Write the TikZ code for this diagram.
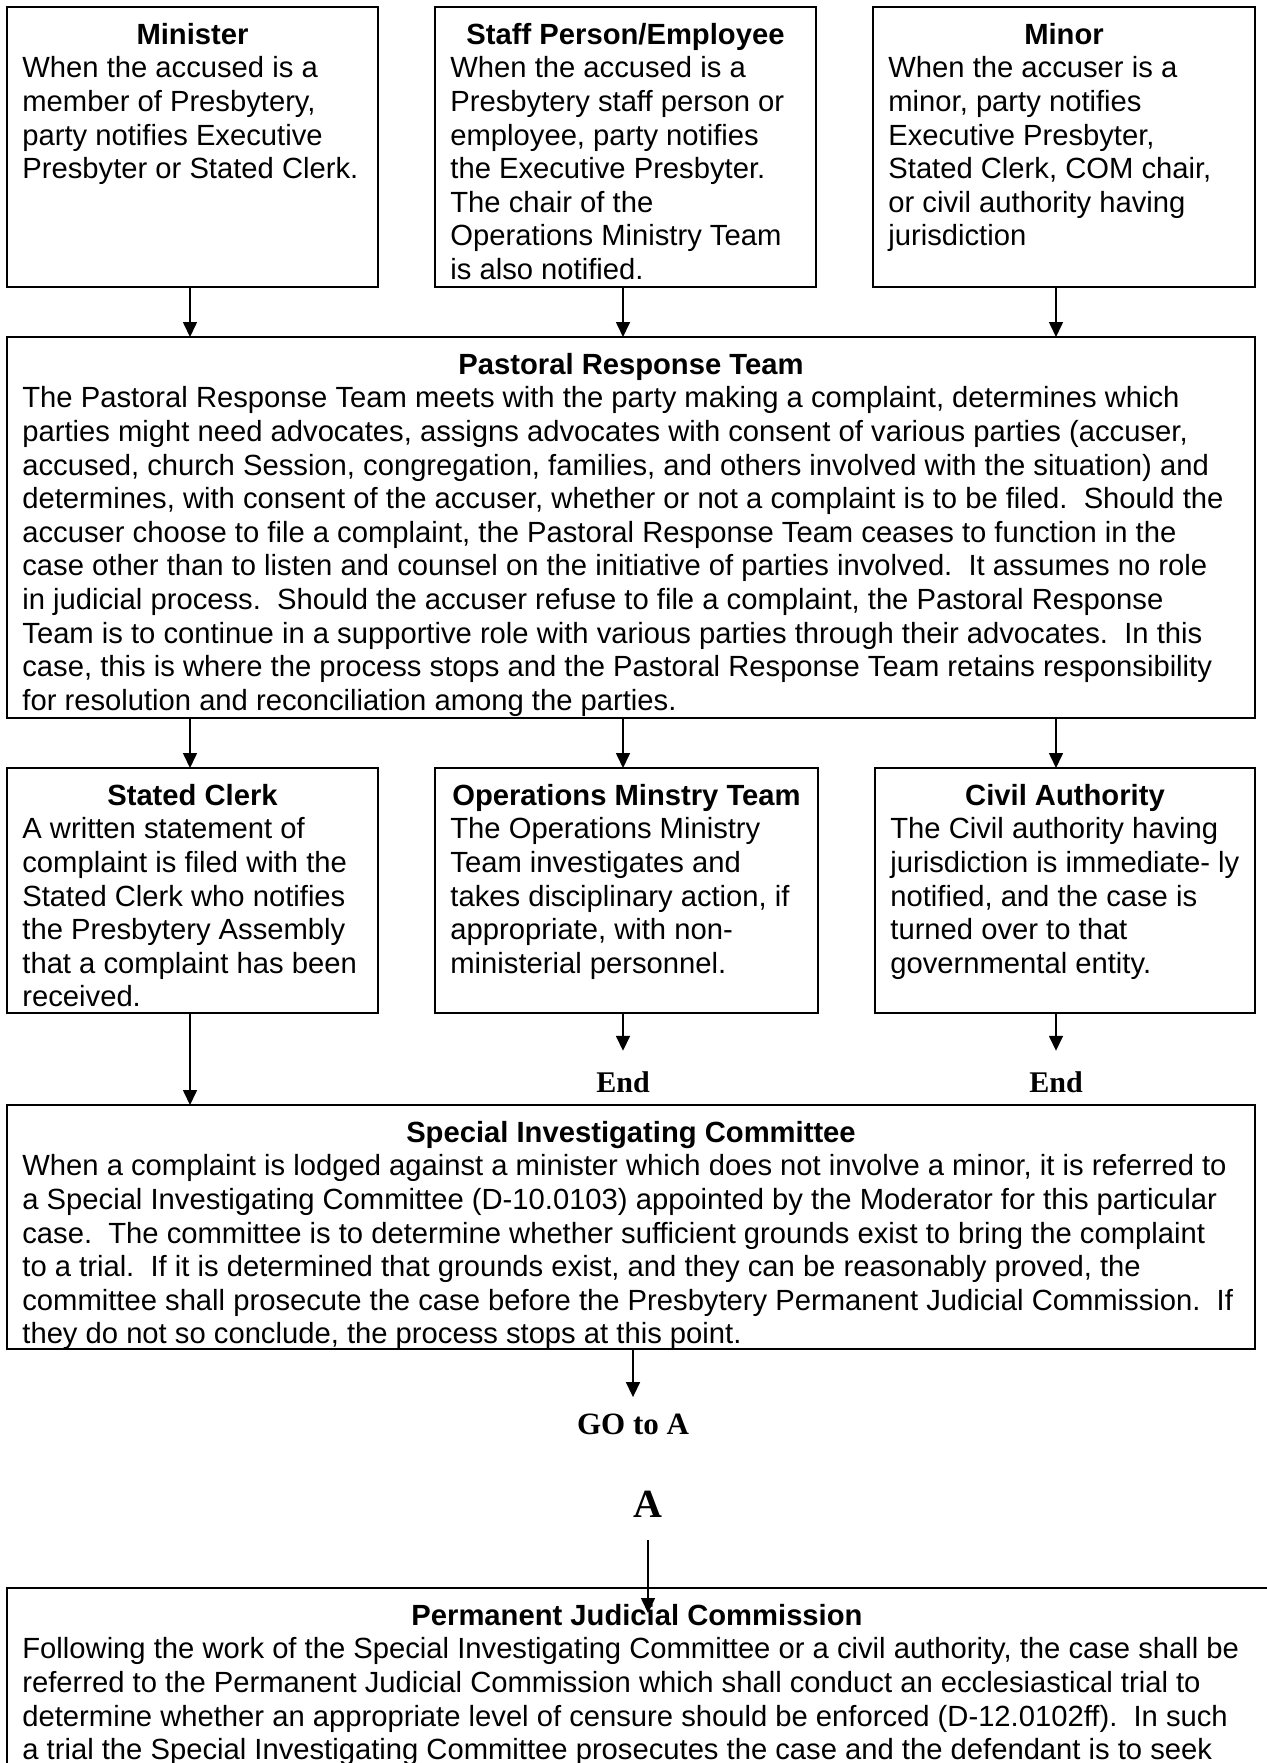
\documentclass[tikz,border=0pt]{standalone}
\usepackage{fontspec}
\setmainfont{Liberation Sans}
\newfontfamily\serifb{Liberation Serif}
\usetikzlibrary{arrows.meta}
\newcommand\st{\rule{0pt}{13pt}}
\begin{document}
\begin{tikzpicture}[x=0.5pt,y=-0.5pt,
  box/.style={draw, line width=1.1pt, inner sep=0pt, outer sep=0pt, anchor=north west},
  ttl/.style={font=\bfseries\fontsize{14.6}{16.8}\selectfont, inner sep=0pt, anchor=base},
  body/.style={font=\fontsize{14.6}{16.8}\selectfont, inner sep=0pt, anchor=north west, align=left},
  arr/.style={line width=0.8pt, -{Triangle[width=7pt,length=7.5pt]}},
  lbl/.style={font=\serifb\bfseries\fontsize{15}{18}\selectfont, inner sep=0pt, anchor=base}]
\useasboundingbox (0,0) rectangle (1267,1763);
\fill[white] (0,0) rectangle (1267,1763);
\clip (0,0) rectangle (1267,1763);
% arrow columns
\coordinate (c1) at (190,0);
\coordinate (c2) at (623,0);
\coordinate (c3) at (1056,0);
\coordinate (c4) at (633,0);
\coordinate (c5) at (648,0);
% row 1
\node[box, minimum width=185.5pt, minimum height=140pt] (min) at (7,7) {};
\node[ttl] (mint) at (192.5,44) {Minister};
\node[body] (minb) at (22,51.5) {\st When the accused is a\\member of Presbytery,\\party notifies Executive\\Presbyter or Stated Clerk.};
\node[box, minimum width=190.5pt, minimum height=140pt] (stf) at (435,7) {};
\node[ttl] (stft) at (625.5,44) {Staff Person/Employee};
\node[body] (stfb) at (450,51.5) {\st When the accused is a\\Presbytery staff person or\\employee, party notifies\\the Executive Presbyter.\\The chair of the\\Operations Ministry Team\\is also notified.};
\node[box, minimum width=191pt, minimum height=140pt] (mnr) at (873,7) {};
\node[ttl] (mnrt) at (1064,44) {Minor};
\node[body] (mnrb) at (888,51.5) {\st When the accuser is a\\minor, party notifies\\Executive Presbyter,\\Stated Clerk, COM chair,\\or civil authority having\\jurisdiction};
% PRT
\node[box, minimum width=624pt, minimum height=190.5pt] (prt) at (7,337) {};
\node[ttl] (prtt) at (631,374) {Pastoral Response Team};
\node[body] (prtb) at (22,381.5) {\st The Pastoral Response Team meets with the party making a complaint, determines which\\parties might need advocates, assigns advocates with consent of various parties (accuser,\\accused, church Session, congregation, families, and others involved with the situation) and\\determines, with consent of the accuser, whether or not a complaint is to be filed.\ \ Should the\\accuser choose to file a complaint, the Pastoral Response Team ceases to function in the\\case other than to listen and counsel on the initiative of parties involved.\ \ It assumes no role\\in judicial process.\ \ Should the accuser refuse to file a complaint, the Pastoral Response\\Team is to continue in a supportive role with various parties through their advocates.\ \ In this\\case, this is where the process stops and the Pastoral Response Team retains responsibility\\for resolution and reconciliation among the parties.};
% row 2
\node[box, minimum width=185.5pt, minimum height=122.5pt] (sc) at (7,768) {};
\node[ttl] (sct) at (192.5,805) {Stated Clerk};
\node[body] (scb) at (22,812.5) {\st A written statement of\\complaint is filed with the\\Stated Clerk who notifies\\the Presbytery Assembly\\that a complaint has been\\received.};
\node[box, minimum width=191.5pt, minimum height=122.5pt] (omt) at (435,768) {};
\node[ttl] (omtt) at (626.5,805) {Operations Minstry Team};
\node[body] (omtb) at (450,812.5) {\st The Operations Ministry\\Team investigates and\\takes disciplinary action, if\\appropriate, with non-\\ministerial personnel.};
\node[box, minimum width=190pt, minimum height=122.5pt] (ca) at (875,768) {};
\node[ttl] (cat) at (1065,805) {Civil Authority};
\node[body] (cab) at (890,812.5) {\st The Civil authority having\\jurisdiction is immediate- ly\\notified, and the case is\\turned over to that\\governmental entity.};
% End labels
\node[lbl] (end1) at (623,1092) {End};
\node[lbl] (end2) at (1056,1092) {End};
% SIC
\node[box, minimum width=624pt, minimum height=122pt] (sic) at (7,1105) {};
\node[ttl] (sict) at (631,1142) {Special Investigating Committee};
\node[body] (sicb) at (22,1149.5) {\st When a complaint is lodged against a minister which does not involve a minor, it is referred to\\a Special Investigating Committee (D-10.0103) appointed by the Moderator for this particular\\case.\ \ The committee is to determine whether sufficient grounds exist to bring the complaint\\to a trial.\ \ If it is determined that grounds exist, and they can be reasonably proved, the\\committee shall prosecute the case before the Presbytery Permanent Judicial Commission.\ \ If\\they do not so conclude, the process stops at this point.};
% GO to A and A
\node[lbl, font=\serifb\bfseries\fontsize{15.5}{18}\selectfont] (go) at (633,1434) {GO to A};
\node[lbl, font=\serifb\bfseries\fontsize{20}{24}\selectfont] (a) at (648,1517) {A};
% PJC
\node[box, minimum width=650pt, minimum height=150pt] (pjc) at (7,1588) {};
\node[ttl] (pjct) at (637,1625) {Permanent Judicial Commission};
\node[body] (pjcb) at (22,1632.5) {\st Following the work of the Special Investigating Committee or a civil authority, the case shall be\\referred to the Permanent Judicial Commission which shall conduct an ecclesiastical trial to\\determine whether an appropriate level of censure should be enforced (D-12.0102ff).\ \ In such\\a trial the Special Investigating Committee prosecutes the case and the defendant is to seek};
\coordinate (aend) at (648,1613);
% connectors
\draw[arr] (min.south -| c1) -- (prt.north -| c1);
\draw[arr] (stf.south -| c2) -- (prt.north -| c2);
\draw[arr] (mnr.south -| c3) -- (prt.north -| c3);
\draw[arr] (prt.south -| c1) -- (sc.north -| c1);
\draw[arr] (prt.south -| c2) -- (omt.north -| c2);
\draw[arr] (prt.south -| c3) -- (ca.north -| c3);
\draw[arr, shorten >=10pt] (omt.south -| c2) -- (end1.north);
\draw[arr, shorten >=10pt] (ca.south -| c3) -- (end2.north);
\draw[arr] (sc.south -| c1) -- (sic.north -| c1);
\draw[arr, shorten >=8pt] (sic.south -| c4) -- (go.north);
\draw[arr, shorten <=11.5pt] (a.south) -- (aend);
\end{tikzpicture}
\end{document}
